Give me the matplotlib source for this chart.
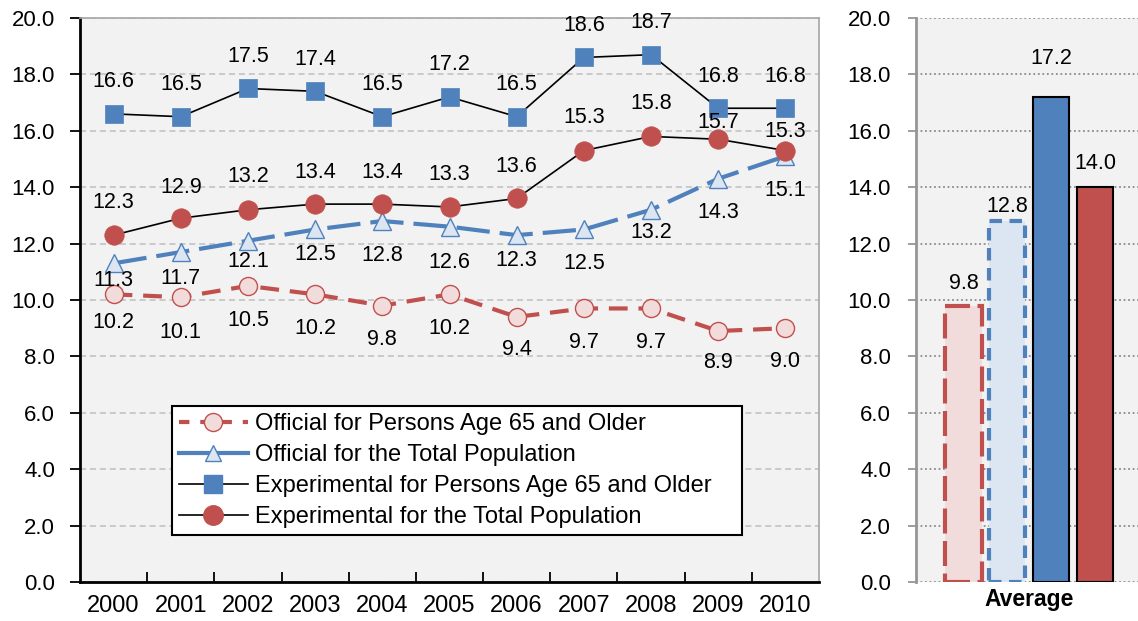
import matplotlib
matplotlib.use('Agg')
import matplotlib.pyplot as plt
from matplotlib.lines import Line2D

# ---------------- data ----------------
years = ['2000', '2001', '2002', '2003', '2004', '2005', '2006', '2007', '2008', '2009', '2010']
official_65 = [10.2, 10.1, 10.5, 10.2, 9.8, 10.2, 9.4, 9.7, 9.7, 8.9, 9.0]
official_total = [11.3, 11.7, 12.1, 12.5, 12.8, 12.6, 12.3, 12.5, 13.2, 14.3, 15.1]
experimental_65 = [16.6, 16.5, 17.5, 17.4, 16.5, 17.2, 16.5, 18.6, 18.7, 16.8, 16.8]
experimental_total = [12.3, 12.9, 13.2, 13.4, 13.4, 13.3, 13.6, 15.3, 15.8, 15.7, 15.3]
series_names = ['Official for Persons Age 65 and Older',
                'Official for the Total Population',
                'Experimental for Persons Age 65 and Older',
                'Experimental for the Total Population']
average_values = [9.8, 12.8, 17.2, 14.0]
average_label = 'Average'
y_ticks = [0, 2, 4, 6, 8, 10, 12, 14, 16, 18, 20]

# ---------------- style ----------------
RED = '#C0504D'
BLUE = '#4F81BD'
PINK = '#F2DCDB'
LBLUE = '#DCE6F2'
BG = '#F2F2F2'

plt.rcParams['font.family'] = ['Liberation Sans', 'DejaVu Sans']

W, H = 1138, 621
fig = plt.figure(figsize=(W / 100, H / 100), dpi=100)
ax = fig.add_axes([80 / W, 39 / H, 739 / W, 564 / H])
ax2 = fig.add_axes([916 / W, 39 / H, 222 / W, 564 / H])

# label offsets in pixels (positive = above the marker)
off_off65 = [-28, -35, -35, -34, -34, -34, -33, -34, -34, -31, -33]
off_offtot = [-17, -26, -21, -25, -34, -36, -25, -34, -23, -34, -34]
off_exp65 = [32] * 11
off_exptot = [33, 31, 33, 32, 32, 32, 32, 33, 33, 17, 19]

x = list(range(len(years)))

ax.set_facecolor(BG)
ax.set_xlim(-0.5, len(years) - 0.5)
ax.set_ylim(0, 20)
ax.set_yticks(y_ticks)
ax.set_yticklabels([f'{v:.1f}' for v in y_ticks])
ax.set_xticks(x)
ax.set_xticklabels(years)
ax.set_xticks([i + 0.5 for i in x[:-1]], minor=True)
ax.tick_params(axis='x', which='major', length=0, pad=9, labelsize=17)
ax.tick_params(axis='x', which='minor', direction='in', length=7, width=1.3, color='black')
ax.tick_params(axis='y', direction='out', length=7, width=1.3, color='black', pad=11, labelsize=16)

ax.yaxis.grid(True, color='#BFBFBF', linewidth=1.1, linestyle=(0, (4, 2.5)))
ax.set_axisbelow(True)
for s in ['left', 'bottom']:
    ax.spines[s].set_color('black')
    ax.spines[s].set_linewidth(2)
for s in ['top', 'right']:
    ax.spines[s].set_color('#A6A6A6')
    ax.spines[s].set_linewidth(1.2)

ax.plot(x, official_65, color=RED, lw=3, linestyle=(0, (4.5, 2.6)),
        marker='o', markersize=13, markerfacecolor=PINK, markeredgecolor=RED,
        markeredgewidth=1.0, zorder=3, label=series_names[0])
ax.plot(x, official_total, color=BLUE, lw=3, linestyle=(0, (8, 2.4)),
        marker='^', markersize=13, markerfacecolor=LBLUE, markeredgecolor=BLUE,
        markeredgewidth=1.0, zorder=4, label=series_names[1])
ax.plot(x, experimental_65, color='black', lw=1.2,
        marker='s', markersize=13, markerfacecolor=BLUE, markeredgecolor=BLUE,
        markeredgewidth=0.5, zorder=5, label=series_names[2])
ax.plot(x, experimental_total, color='black', lw=1.2,
        marker='o', markersize=14, markerfacecolor=RED, markeredgecolor=RED,
        markeredgewidth=0.5, zorder=6, label=series_names[3])

for vals, offs in [(official_65, off_off65), (official_total, off_offtot),
                   (experimental_65, off_exp65), (experimental_total, off_exptot)]:
    for xi, v, o in zip(x, vals, offs):
        ax.annotate(f'{v:.1f}', (xi, v), xytext=(0, o * 0.72), textcoords='offset points',
                    ha='center', va='center', fontsize=15.5, zorder=10)

# legend handles
h1 = Line2D([], [], color=RED, lw=3, linestyle=(0, (2.5, 2.6)), marker='o', markersize=13,
            markerfacecolor=PINK, markeredgecolor=RED, markeredgewidth=1.0)
h2 = Line2D([], [], color=BLUE, lw=3, marker='^', markersize=11,
            markerfacecolor=LBLUE, markeredgecolor=BLUE, markeredgewidth=1.0)
h3 = Line2D([], [], color='black', lw=1.2, marker='s', markersize=13,
            markerfacecolor=BLUE, markeredgecolor=BLUE)
h4 = Line2D([], [], color='black', lw=1.2, marker='o', markersize=14,
            markerfacecolor=RED, markeredgecolor=RED)
leg = ax.legend([h1, h2, h3, h4], series_names, loc='lower left',
                bbox_to_anchor=(92 / 739, 47 / 564, 570 / 739, 0.2), mode='expand',
                borderaxespad=0, fontsize=17, frameon=True, fancybox=False,
                edgecolor='black', framealpha=1, handlelength=2.9, handletextpad=0.3,
                labelspacing=0.38, borderpad=0.3)
leg.get_frame().set_linewidth(1.5)
leg.set_zorder(20)

# ---------------- right panel ----------------
ax2.set_facecolor(BG)
bx = list(range(len(average_values)))
ax2.set_xlim(-1.08, 3.97)
ax2.set_ylim(0, 20)
ax2.set_yticks(y_ticks)
ax2.set_yticklabels([f'{v:.1f}' for v in y_ticks])
ax2.set_xticks([1.5])
ax2.set_xticklabels([average_label], fontweight='bold')
ax2.tick_params(axis='x', length=0, pad=4, labelsize=16.5)
ax2.tick_params(axis='y', direction='out', length=6, width=1.3, color='#969696', pad=12, labelsize=16)
ax2.yaxis.grid(True, color='#8C8C8C', linewidth=1.3, linestyle=(0, (1, 1.5)))
ax2.set_axisbelow(True)
ax2.spines['left'].set_color('#969696')
ax2.spines['left'].set_linewidth(2)
for s in ['top', 'right', 'bottom']:
    ax2.spines[s].set_visible(False)

faces = [PINK, LBLUE, BLUE, RED]
edges = [RED, BLUE, 'black', 'black']
styles = [(0, (6, 1.8)), (0, (3, 1.8)), '-', '-']
lws = [3, 3, 1.5, 1.5]
bar_offs = [22, 14.5, 38, 24]
bars = ax2.bar(bx, average_values, width=0.82, zorder=3)
for b, fc, ec, ls, lw in zip(bars, faces, edges, styles, lws):
    b.set_facecolor(fc)
    b.set_edgecolor(ec)
    b.set_linestyle(ls)
    b.set_linewidth(lw)
for xi, v, o in zip(bx, average_values, bar_offs):
    ax2.annotate(f'{v:.1f}', (xi, v), xytext=(0, o * 0.72), textcoords='offset points',
                 ha='center', va='center', fontsize=15.5, zorder=10)

fig.savefig('out.png', dpi=100, facecolor='white')
